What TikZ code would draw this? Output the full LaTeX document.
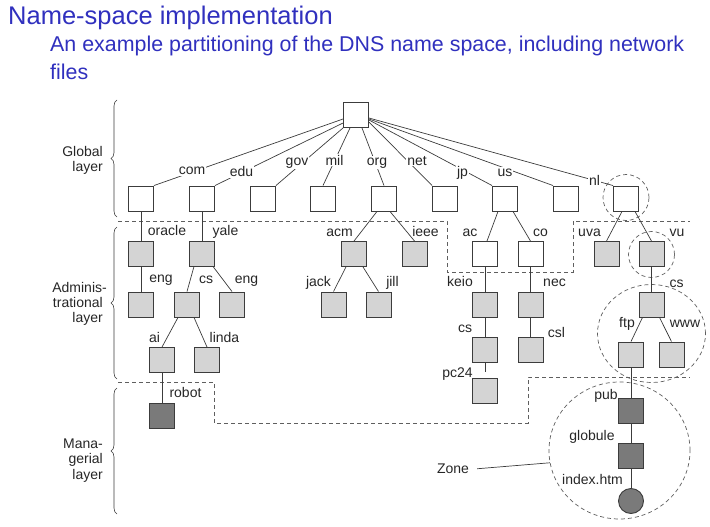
\documentclass[tikz,border=0pt]{standalone}
\usepackage{fontspec}
\setmainfont{Liberation Sans}
\usetikzlibrary{decorations.pathreplacing,calc,shapes.geometric}
\definecolor{titleblue}{RGB}{48,48,190}
\definecolor{edgec}{RGB}{60,60,60}
\definecolor{lightbox}{RGB}{212,212,212}
\definecolor{darkbox}{RGB}{122,122,122}
\definecolor{dashc}{RGB}{95,95,95}
\begin{document}
\begin{tikzpicture}[x=1pt,y=-1pt,
  wbox/.style={draw=edgec, fill=white, minimum size=25pt, inner sep=0pt, line width=0.9pt},
  gbox/.style={wbox, fill=lightbox},
  dbox/.style={wbox, fill=darkbox},
  lab/.style={font=\fontsize{14}{16}\selectfont, inner sep=1pt, text=black!85, anchor=base},
  onlab/.style={lab, fill=white},
  lyr/.style={font=\fontsize{14}{16}\selectfont, inner sep=0pt, text=black!85, anchor=base east},
  edgeline/.style={draw=edgec, line width=0.7pt},
  zonedash/.style={draw=dashc, dash pattern=on 4pt off 3pt, line width=0.7pt},
  brc/.style={decorate, decoration={brace, amplitude=6pt}, draw=edgec, line width=0.6pt}
]
\path[use as bounding box] (0,0) rectangle (710,527);

% titles
\node[anchor=base west, inner sep=0pt, font=\fontsize{25.5}{30}\selectfont, text=titleblue] (title) at (8,25) {Name-space implementation};
\node[anchor=base west, inner sep=0pt, font=\fontsize{21.4}{26}\selectfont, text=titleblue] (sub1) at (50,52) {An example partitioning of the DNS name space, including network};
\node[anchor=base west, inner sep=0pt, font=\fontsize{21.4}{26}\selectfont, text=titleblue] (sub2) at (50,80) {files};

% layer boundaries
\draw[zonedash] (118,221) -- (447,221) -- (447,272) -- (573,272) -- (573,221) -- (690,221);
\draw[zonedash] (118,382) -- (214,382) -- (214,423) -- (528,423) -- (528,377) -- (690,377);

% zone circles
\node[zonedash, circle, minimum size=46pt, inner sep=0pt] (nlc) at (626,197.5) {};
\node[zonedash, circle, minimum size=46pt, inner sep=0pt] (vuc) at (651.5,254.5) {};
\node[zonedash, ellipse, minimum width=108pt, minimum height=98pt, inner sep=0pt] (csc) at (651.5,333.5) {};
\node[zonedash, ellipse, minimum width=141pt, minimum height=137pt, inner sep=0pt] (zonec) at (619.5,450.5) {};

% braces and layer labels
\draw[brc] (117,217) -- (117,100);
\draw[brc] (117,379) -- (117,227);
\draw[brc] (117,514) -- (117,388);
\node[lyr] (g1) at (103,156) {Global};
\node[lyr] (g2) at (103,171) {layer};
\node[lyr] (a1) at (107,292) {Adminis-};
\node[lyr] (a2) at (103,307) {trational};
\node[lyr] (a3) at (103,322) {layer};
\node[lyr] (m1) at (103,448) {Mana-};
\node[lyr] (m2) at (103,463.5) {gerial};
\node[lyr] (m3) at (103,479) {layer};

% nodes
\node[wbox] (root) at (356,115) {};
\node[wbox] (com) at (141,198.5) {};
\node[wbox] (edu) at (202,198.5) {};
\node[wbox] (gov) at (263,198.5) {};
\node[wbox] (mil) at (323,198.5) {};
\node[wbox] (org) at (384,198.5) {};
\node[wbox] (net) at (445,198.5) {};
\node[wbox] (jp) at (505,198.5) {};
\node[wbox] (us) at (566,198.5) {};
\node[wbox] (nl) at (626,198.5) {};

\node[gbox] (oracle) at (141,253.5) {};
\node[gbox] (yale) at (202,253.5) {};
\node[gbox] (eng1) at (141,304.5) {};
\node[gbox] (cs1) at (187,304.5) {};
\node[gbox] (eng2) at (232,304.5) {};
\node[gbox] (ai) at (162,360) {};
\node[gbox] (linda) at (207,360) {};
\node[dbox] (robot) at (162,416) {};

\node[gbox] (acm) at (354,254) {};
\node[gbox] (ieee) at (414.5,254) {};
\node[gbox] (jack) at (333.5,304.5) {};
\node[gbox] (jill) at (378.5,304.5) {};

\node[wbox] (ac) at (485,254) {};
\node[wbox] (co) at (530.5,254) {};
\node[gbox] (keio) at (485,304.5) {};
\node[gbox] (cs2) at (485,349.5) {};
\node[gbox] (pc24) at (485,390.5) {};
\node[gbox] (nec) at (530.5,304.5) {};
\node[gbox] (csl) at (530.5,349.5) {};

\node[gbox] (uva) at (606.5,254) {};
\node[gbox] (vu) at (651.5,254) {};
\node[gbox] (cs3) at (651.5,304.5) {};
\node[gbox] (ftp) at (631,354.5) {};
\node[gbox] (www) at (671.5,354.5) {};
\node[dbox] (pub) at (631,410.5) {};
\node[dbox] (globule) at (631,455.5) {};
\node[draw=edgec, fill=darkbox, circle, minimum size=25pt, inner sep=0pt, line width=0.9pt] (index) at (631,501) {};

% edges from root
\draw[edgeline] ($(root.west)+(0,4)$) -- (com.north east);
\draw[edgeline] ($(root.west)+(0,8)$) -- (edu.north east);
\draw[edgeline] (root.south west) -- (gov.north east);
\draw[edgeline] ($(root.south)+(-6,0)$) -- (mil.north);
\draw[edgeline] ($(root.south)+(6,0)$) -- (org.north);
\draw[edgeline] ($(root.east)+(0,7)$) -- (net.north west);
\draw[edgeline] ($(root.east)+(0,5)$) -- (jp.north west);
\draw[edgeline] ($(root.east)+(0,4)$) -- (us.north west);
\draw[edgeline] ($(root.east)+(0,3)$) -- (nl.north west);

% tree edges
\draw[edgeline] (com) -- (oracle);
\draw[edgeline] (oracle) -- (eng1);
\draw[edgeline] (edu) -- (yale);
\draw[edgeline] ($(yale.south)+(-8,0)$) -- (cs1.north);
\draw[edgeline] ($(yale.south)+(11,0)$) -- (eng2.north);
\draw[edgeline] ($(cs1.south)+(-9,0)$) -- (ai.north);
\draw[edgeline] ($(cs1.south)+(7,0)$) -- (linda.north);
\draw[edgeline] (ai) -- (robot);

\draw[edgeline] ($(org.south)+(-7,0)$) -- (acm.north);
\draw[edgeline] ($(org.south)+(6,0)$) -- (ieee.north);
\draw[edgeline] ($(acm.south)+(-8,0)$) -- (jack.north);
\draw[edgeline] ($(acm.south)+(9,0)$) -- (jill.north);

\draw[edgeline] ($(jp.south)+(-7,0)$) -- ($(ac.north)+(2,0)$);
\draw[edgeline] ($(jp.south)+(8,0)$) -- (co.north);
\draw[edgeline] (ac) -- (keio);
\draw[edgeline] (keio) -- (cs2);
\draw[edgeline] (cs2.south) -- ($(pc24.north)+(0,-6)$);
\draw[edgeline] (co) -- (nec);
\draw[edgeline] (nec) -- (csl);

\draw[edgeline] ($(nl.south)+(-4,0)$) -- (uva.north);
\draw[edgeline] ($(nl.south)+(9,0)$) -- (vu.north);
\draw[edgeline] (vu) -- (cs3);
\draw[edgeline] ($(cs3.south)+(-9,0)$) -- (ftp.north);
\draw[edgeline] ($(cs3.south)+(8,0)$) -- (www.north);
\draw[edgeline] (ftp) -- (pub);
\draw[edgeline] (pub) -- (globule);
\draw[edgeline] (globule) -- (index);

% labels on root edges
\node[onlab] (lcom) at (192,174.5) {com};
\node[onlab] (ledu) at (241.5,176.5) {edu};
\node[onlab] (lgov) at (297,165) {gov};
\node[onlab] (lmil) at (334.5,165) {mil};
\node[onlab] (lorg) at (377,165) {org};
\node[onlab] (lnet) at (417,165) {net};
\node[onlab] (ljp) at (462.5,176) {jp};
\node[onlab] (lus) at (505,176) {us};
\node[onlab] (lnl) at (594.5,185) {nl};

% other labels
\node[lab] (loracle) at (167,235) {oracle};
\node[lab] (lyale) at (225.5,235) {yale};
\node[lab] (leng1) at (161,282.5) {eng};
\node[lab] (lcs1) at (206,283) {cs};
\node[lab] (leng2) at (246.5,283) {eng};
\node[lab] (lai) at (154.5,342) {ai};
\node[lab] (llinda) at (224.5,342) {linda};
\node[lab] (lrobot) at (185.5,397.5) {robot};
\node[lab] (lacm) at (339.5,236) {acm};
\node[lab] (lieee) at (425.5,236) {ieee};
\node[lab] (ljack) at (318.5,286) {jack};
\node[lab] (ljill) at (392.5,286) {jill};
\node[lab] (lac) at (470,236) {ac};
\node[lab] (lco) at (540.5,236.5) {co};
\node[lab] (lkeio) at (460,286) {keio};
\node[lab] (lnec) at (554.5,286.5) {nec};
\node[lab] (lcs2) at (465,332) {cs};
\node[lab] (lcsl) at (556.5,337) {csl};
\node[lab] (lpc) at (457.5,377.5) {pc24};
\node[lab] (luva) at (589.5,236.5) {uva};
\node[lab] (lvu) at (677,236.5) {vu};
\node[lab] (lcs3) at (676.5,287) {cs};
\node[lab] (lftp) at (627,327) {ftp};
\node[lab] (lwww) at (685,327) {www};
\node[lab] (lpub) at (606,399) {pub};
\node[lab] (lglob) at (592,440.5) {globule};
\node[lab] (lindex) at (592.5,484) {index.htm};
\node[lab] (lzone) at (453,473.5) {Zone};
\draw[edgeline] ($(lzone.east)+(7,0)$) -- (zonec.190);
\end{tikzpicture}
\end{document}
